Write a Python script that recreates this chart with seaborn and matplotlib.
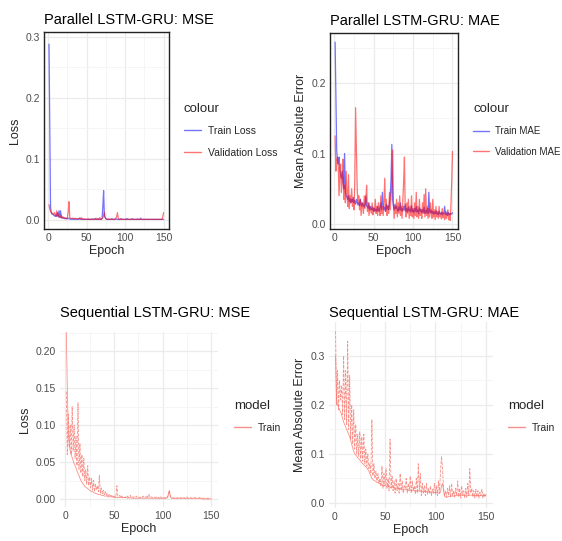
import numpy as np
import pandas as pd
import matplotlib
matplotlib.use("Agg")
import matplotlib.pyplot as plt
from matplotlib.ticker import MultipleLocator
import seaborn as sns

# ---- data ----
epochs = list(range(1, 151))

pmse_train = [
    0.288, 0.155, 0.021, 0.012, 0.010, 0.009, 0.008, 0.007, 0.006, 0.008,
    0.006, 0.012, 0.005, 0.015, 0.004, 0.015, 0.004, 0.003, 0.004, 0.003,
    0.003, 0.002, 0.003, 0.002, 0.002, 0.003, 0.002, 0.002, 0.001, 0.002,
    0.001, 0.002, 0.001, 0.001, 0.002, 0.001, 0.001, 0.001, 0.002, 0.001,
    0.003, 0.001, 0.001, 0.001, 0.001, 0.001, 0.001, 0.001, 0.001, 0.001,
    0.001, 0.001, 0.001, 0.001, 0.001, 0.001, 0.001, 0.001, 0.001, 0.001,
    0.002, 0.001, 0.001, 0.001, 0.002, 0.001, 0.001, 0.001, 0.001, 0.003,
    0.022, 0.048, 0.006, 0.004, 0.002, 0.001, 0.001, 0.001, 0.001, 0.001,
    0.001, 0.001, 0.002, 0.001, 0.001, 0.001, 0.001, 0.002, 0.001, 0.001,
    0.001, 0.001, 0.001, 0.002, 0.001, 0.001, 0.001, 0.001, 0.001, 0.001,
    0.001, 0.002, 0.001, 0.001, 0.001, 0.001, 0.001, 0.001, 0.002, 0.001,
    0.001, 0.001, 0.001, 0.001, 0.001, 0.001, 0.001, 0.001, 0.001, 0.003,
    0.001, 0.001, 0.001, 0.001, 0.001, 0.001, 0.001, 0.001, 0.001, 0.001,
    0.001, 0.001, 0.001, 0.001, 0.001, 0.001, 0.001, 0.001, 0.001, 0.001,
    0.001, 0.001, 0.001, 0.001, 0.001, 0.001, 0.001, 0.001, 0.001, 0.001,
]
pmse_val = [
    0.025, 0.018, 0.014, 0.012, 0.010, 0.011, 0.009, 0.012, 0.008, 0.006,
    0.015, 0.007, 0.010, 0.005, 0.006, 0.004, 0.008, 0.003, 0.005, 0.003,
    0.004, 0.002, 0.003, 0.002, 0.004, 0.015, 0.030, 0.004, 0.003, 0.002,
    0.002, 0.003, 0.002, 0.002, 0.003, 0.002, 0.002, 0.001, 0.002, 0.003,
    0.002, 0.002, 0.004, 0.001, 0.002, 0.001, 0.002, 0.001, 0.001, 0.001,
    0.001, 0.002, 0.001, 0.001, 0.001, 0.002, 0.001, 0.001, 0.002, 0.001,
    0.001, 0.003, 0.001, 0.002, 0.001, 0.001, 0.004, 0.001, 0.001, 0.002,
    0.003, 0.008, 0.013, 0.004, 0.002, 0.001, 0.001, 0.002, 0.001, 0.001,
    0.001, 0.002, 0.001, 0.001, 0.001, 0.001, 0.002, 0.003, 0.006, 0.012,
    0.003, 0.001, 0.001, 0.001, 0.002, 0.001, 0.001, 0.001, 0.001, 0.001,
    0.001, 0.001, 0.002, 0.001, 0.001, 0.001, 0.001, 0.001, 0.001, 0.002,
    0.001, 0.001, 0.001, 0.001, 0.001, 0.002, 0.001, 0.001, 0.001, 0.001,
    0.001, 0.001, 0.001, 0.001, 0.001, 0.001, 0.001, 0.001, 0.001, 0.001,
    0.001, 0.001, 0.001, 0.001, 0.001, 0.001, 0.001, 0.001, 0.001, 0.001,
    0.001, 0.001, 0.001, 0.001, 0.001, 0.001, 0.001, 0.001, 0.006, 0.012,
]

pmae_train = [
    0.258, 0.182, 0.105, 0.090, 0.085, 0.095, 0.075, 0.070, 0.065, 0.075,
    0.060, 0.050, 0.100, 0.045, 0.040, 0.038, 0.035, 0.040, 0.032, 0.036,
    0.030, 0.035, 0.032, 0.038, 0.030, 0.033, 0.028, 0.035, 0.030, 0.027,
    0.030, 0.026, 0.035, 0.028, 0.025, 0.030, 0.027, 0.024, 0.028, 0.040,
    0.026, 0.024, 0.022, 0.030, 0.020, 0.025, 0.022, 0.020, 0.024, 0.018,
    0.022, 0.019, 0.021, 0.018, 0.025, 0.020, 0.018, 0.023, 0.030, 0.020,
    0.045, 0.025, 0.020, 0.024, 0.018, 0.028, 0.021, 0.026, 0.020, 0.030,
    0.040, 0.065, 0.113, 0.035, 0.025, 0.020, 0.028, 0.022, 0.025, 0.020,
    0.018, 0.024, 0.020, 0.030, 0.019, 0.022, 0.018, 0.025, 0.020, 0.028,
    0.018, 0.022, 0.017, 0.024, 0.019, 0.021, 0.017, 0.026, 0.018, 0.020,
    0.016, 0.022, 0.018, 0.025, 0.017, 0.020, 0.015, 0.023, 0.018, 0.021,
    0.016, 0.020, 0.017, 0.024, 0.015, 0.019, 0.016, 0.022, 0.015, 0.045,
    0.018, 0.016, 0.020, 0.015, 0.018, 0.014, 0.017, 0.015, 0.019, 0.014,
    0.016, 0.013, 0.018, 0.015, 0.014, 0.017, 0.013, 0.016, 0.014, 0.025,
    0.015, 0.013, 0.017, 0.012, 0.016, 0.014, 0.013, 0.015, 0.014, 0.016,
]
pmae_val = [
    0.125, 0.075, 0.090, 0.095, 0.080, 0.040, 0.070, 0.085, 0.045, 0.060,
    0.092, 0.035, 0.055, 0.030, 0.075, 0.045, 0.025, 0.070, 0.022, 0.040,
    0.030, 0.050, 0.025, 0.035, 0.020, 0.060, 0.165, 0.110, 0.050, 0.030,
    0.040, 0.020, 0.035, 0.012, 0.030, 0.025, 0.015, 0.040, 0.022, 0.035,
    0.055, 0.018, 0.030, 0.012, 0.025, 0.020, 0.015, 0.030, 0.013, 0.022,
    0.018, 0.035, 0.015, 0.025, 0.012, 0.030, 0.020, 0.012, 0.040, 0.015,
    0.025, 0.012, 0.030, 0.065, 0.018, 0.035, 0.012, 0.025, 0.015, 0.045,
    0.020, 0.040, 0.055, 0.105, 0.030, 0.008, 0.025, 0.015, 0.035, 0.010,
    0.030, 0.015, 0.040, 0.012, 0.025, 0.008, 0.035, 0.060, 0.095, 0.020,
    0.010, 0.030, 0.015, 0.035, 0.008, 0.025, 0.012, 0.040, 0.010, 0.022,
    0.008, 0.030, 0.012, 0.045, 0.010, 0.025, 0.008, 0.035, 0.012, 0.020,
    0.008, 0.030, 0.015, 0.042, 0.010, 0.050, 0.012, 0.025, 0.008, 0.022,
    0.010, 0.030, 0.015, 0.008, 0.035, 0.010, 0.020, 0.006, 0.025, 0.010,
    0.018, 0.008, 0.025, 0.010, 0.015, 0.007, 0.022, 0.009, 0.015, 0.006,
    0.018, 0.008, 0.012, 0.020, 0.006, 0.015, 0.005, 0.025, 0.060, 0.103,
]

smse_train = [
    0.225, 0.150, 0.090, 0.075, 0.065, 0.060, 0.056, 0.052, 0.048, 0.045,
    0.042, 0.038, 0.035, 0.032, 0.028, 0.025, 0.023, 0.021, 0.019, 0.017,
    0.016, 0.015, 0.014, 0.013, 0.012, 0.011, 0.010, 0.010, 0.009, 0.008,
    0.008, 0.007, 0.007, 0.006, 0.006, 0.006, 0.005, 0.005, 0.005, 0.004,
    0.004, 0.004, 0.004, 0.003, 0.003, 0.003, 0.003, 0.003, 0.003, 0.002,
    0.002, 0.002, 0.002, 0.002, 0.002, 0.002, 0.002, 0.002, 0.002, 0.002,
    0.002, 0.002, 0.002, 0.001, 0.002, 0.001, 0.002, 0.001, 0.001, 0.001,
    0.001, 0.001, 0.001, 0.001, 0.001, 0.001, 0.001, 0.001, 0.001, 0.001,
    0.001, 0.001, 0.001, 0.001, 0.001, 0.001, 0.001, 0.001, 0.001, 0.001,
    0.001, 0.001, 0.001, 0.001, 0.001, 0.001, 0.001, 0.001, 0.001, 0.001,
    0.001, 0.001, 0.001, 0.001, 0.002, 0.006, 0.011, 0.003, 0.001, 0.001,
    0.001, 0.001, 0.001, 0.001, 0.001, 0.001, 0.001, 0.001, 0.001, 0.001,
    0.001, 0.001, 0.001, 0.001, 0.001, 0.001, 0.001, 0.001, 0.001, 0.001,
    0.001, 0.001, 0.001, 0.001, 0.001, 0.001, 0.001, 0.001, 0.001, 0.001,
    0.000, 0.000, 0.000, 0.000, 0.000, 0.000, 0.000, 0.000, 0.000, 0.000,
]
smse_val = [
    0.145, 0.060, 0.115, 0.070, 0.100, 0.060, 0.125, 0.065, 0.100, 0.055,
    0.085, 0.045, 0.130, 0.040, 0.075, 0.035, 0.060, 0.030, 0.055, 0.025,
    0.040, 0.020, 0.045, 0.018, 0.030, 0.015, 0.028, 0.012, 0.025, 0.010,
    0.020, 0.012, 0.018, 0.010, 0.032, 0.008, 0.015, 0.007, 0.012, 0.006,
    0.010, 0.005, 0.008, 0.004, 0.007, 0.004, 0.006, 0.003, 0.005, 0.003,
    0.004, 0.003, 0.018, 0.004, 0.003, 0.005, 0.002, 0.004, 0.002, 0.003,
    0.002, 0.003, 0.002, 0.004, 0.002, 0.003, 0.005, 0.002, 0.003, 0.002,
    0.003, 0.002, 0.004, 0.002, 0.003, 0.002, 0.002, 0.003, 0.002, 0.004,
    0.002, 0.003, 0.002, 0.005, 0.002, 0.006, 0.002, 0.003, 0.002, 0.002,
    0.003, 0.002, 0.002, 0.003, 0.001, 0.002, 0.001, 0.003, 0.001, 0.002,
    0.001, 0.002, 0.001, 0.003, 0.002, 0.008, 0.012, 0.004, 0.002, 0.001,
    0.002, 0.001, 0.002, 0.001, 0.001, 0.002, 0.001, 0.001, 0.002, 0.001,
    0.001, 0.002, 0.001, 0.001, 0.003, 0.001, 0.001, 0.001, 0.002, 0.001,
    0.001, 0.001, 0.002, 0.001, 0.001, 0.001, 0.001, 0.002, 0.001, 0.001,
    0.001, 0.001, 0.001, 0.002, 0.001, 0.001, 0.001, 0.001, 0.001, 0.001,
]

smae_train = [
    0.300, 0.210, 0.200, 0.195, 0.190, 0.185, 0.180, 0.172, 0.165, 0.160,
    0.155, 0.150, 0.145, 0.140, 0.135, 0.128, 0.120, 0.112, 0.105, 0.100,
    0.098, 0.095, 0.092, 0.090, 0.088, 0.085, 0.082, 0.080, 0.078, 0.076,
    0.074, 0.072, 0.068, 0.065, 0.060, 0.055, 0.050, 0.048, 0.046, 0.045,
    0.044, 0.042, 0.041, 0.040, 0.039, 0.038, 0.037, 0.036, 0.036, 0.035,
    0.035, 0.034, 0.036, 0.033, 0.033, 0.032, 0.034, 0.031, 0.031, 0.030,
    0.030, 0.031, 0.029, 0.029, 0.030, 0.028, 0.028, 0.029, 0.027, 0.027,
    0.028, 0.027, 0.026, 0.026, 0.027, 0.026, 0.025, 0.025, 0.026, 0.025,
    0.025, 0.024, 0.025, 0.024, 0.024, 0.025, 0.023, 0.023, 0.024, 0.023,
    0.023, 0.023, 0.022, 0.023, 0.022, 0.022, 0.022, 0.023, 0.021, 0.021,
    0.021, 0.021, 0.020, 0.020, 0.022, 0.035, 0.040, 0.025, 0.014, 0.012,
    0.012, 0.012, 0.013, 0.013, 0.013, 0.014, 0.014, 0.014, 0.015, 0.015,
    0.015, 0.015, 0.015, 0.016, 0.016, 0.016, 0.016, 0.016, 0.016, 0.016,
    0.016, 0.016, 0.016, 0.016, 0.016, 0.016, 0.016, 0.015, 0.015, 0.015,
    0.015, 0.015, 0.015, 0.015, 0.015, 0.015, 0.015, 0.015, 0.015, 0.015,
]
smae_val = [
    0.350, 0.200, 0.270, 0.190, 0.250, 0.210, 0.240, 0.180, 0.300, 0.170,
    0.270, 0.160, 0.330, 0.150, 0.260, 0.130, 0.200, 0.120, 0.190, 0.110,
    0.160, 0.100, 0.140, 0.095, 0.145, 0.090, 0.135, 0.085, 0.140, 0.080,
    0.110, 0.075, 0.100, 0.070, 0.080, 0.060, 0.170, 0.055, 0.080, 0.050,
    0.065, 0.045, 0.060, 0.040, 0.050, 0.035, 0.075, 0.030, 0.060, 0.035,
    0.070, 0.030, 0.050, 0.025, 0.130, 0.030, 0.055, 0.025, 0.045, 0.020,
    0.050, 0.025, 0.040, 0.020, 0.060, 0.025, 0.045, 0.020, 0.035, 0.030,
    0.050, 0.020, 0.040, 0.025, 0.055, 0.020, 0.045, 0.025, 0.035, 0.018,
    0.050, 0.020, 0.080, 0.025, 0.060, 0.015, 0.040, 0.020, 0.035, 0.015,
    0.040, 0.018, 0.030, 0.020, 0.035, 0.015, 0.028, 0.020, 0.040, 0.018,
    0.035, 0.015, 0.045, 0.020, 0.065, 0.095, 0.070, 0.030, 0.015, 0.025,
    0.012, 0.030, 0.015, 0.035, 0.012, 0.040, 0.015, 0.025, 0.012, 0.030,
    0.015, 0.045, 0.012, 0.030, 0.010, 0.035, 0.015, 0.025, 0.010, 0.030,
    0.012, 0.040, 0.015, 0.070, 0.020, 0.030, 0.012, 0.025, 0.010, 0.028,
    0.012, 0.025, 0.010, 0.022, 0.015, 0.028, 0.010, 0.020, 0.012, 0.018,
]

seq_colour = "#F8766D"

# ---- styling: mimic ggplot theme_minimal ----
sns.set_theme(style="whitegrid")
plt.rcParams["font.family"] = ["Liberation Sans", "DejaVu Sans"]
plt.rcParams["grid.color"] = "#EBEBEB"
plt.rcParams["grid.linewidth"] = 0.8

W, H = 562, 541
fig = plt.figure(figsize=(W / 100, H / 100), dpi=100)


def px_axes(x0, y0, x1, y1):
    return fig.add_axes([x0 / W, 1 - y1 / H, (x1 - x0) / W, (y1 - y0) / H])


def style_axes(ax, title, ylab, ymajor, ylim, border, title_pad):
    ax.set_xlim(-5.5, 157)
    ax.set_ylim(*ylim)
    ax.xaxis.set_major_locator(MultipleLocator(50))
    ax.xaxis.set_minor_locator(MultipleLocator(25))
    ax.yaxis.set_major_locator(MultipleLocator(ymajor))
    ax.yaxis.set_minor_locator(MultipleLocator(ymajor / 2))
    ax.grid(which="major", color="#EBEBEB", lw=0.9)
    ax.grid(which="minor", color="#F4F4F4", lw=0.6)
    ax.set_facecolor("white")
    ax.tick_params(which="both", length=0, labelsize=7.5, labelcolor="#4D4D4D", pad=3)
    ax.set_title(title, loc="left", fontsize=10.5, pad=title_pad, color="black")
    ax.set_xlabel("Epoch", fontsize=9, labelpad=1)
    ax.set_ylabel(ylab, fontsize=9, labelpad=3)
    for s in ax.spines.values():
        s.set_visible(border)
        s.set_color("#222222")
        s.set_linewidth(1.0)


def place_legend(ax, x, y, title, fs=7.5):
    h, l = ax.get_legend_handles_labels()
    leg = ax.legend(h, l, title=title, loc="upper left",
                    bbox_to_anchor=(x / W, 1 - y / H), bbox_transform=fig.transFigure,
                    frameon=False, fontsize=fs, title_fontsize=9.5,
                    handlelength=1.6, handletextpad=0.7, labelspacing=1.1,
                    borderpad=0, borderaxespad=0)
    leg._legend_box.align = "left"
    leg._legend_box.sep = 8
    for line in leg.get_lines():
        line.set_linewidth(1.0)


# ---- top left: parallel MSE ----
df1 = pd.DataFrame({
    "epoch": epochs * 2,
    "loss": pmse_train + pmse_val,
    "colour": ["Train Loss"] * 150 + ["Validation Loss"] * 150,
})
ax1 = px_axes(44, 32, 169, 229)
sns.lineplot(data=df1, x="epoch", y="loss", hue="colour", estimator=None,
             palette={"Train Loss": "blue", "Validation Loss": "red"},
             alpha=0.55, lw=0.9, ax=ax1)
style_axes(ax1, "Parallel LSTM-GRU: MSE", "Loss", 0.1, (-0.0148, 0.308), True, 6)
place_legend(ax1, 184, 103, "colour")

# ---- top right: parallel MAE ----
df2 = pd.DataFrame({
    "epoch": epochs * 2,
    "mae": pmae_train + pmae_val,
    "colour": ["Train MAE"] * 150 + ["Validation MAE"] * 150,
})
ax2 = px_axes(330, 33, 458, 229)
sns.lineplot(data=df2, x="epoch", y="mae", hue="colour", estimator=None,
             palette={"Train MAE": "blue", "Validation MAE": "red"},
             alpha=0.55, lw=0.9, ax=ax2)
style_axes(ax2, "Parallel LSTM-GRU: MAE", "Mean Absolute Error", 0.1, (-0.0071, 0.271), True, 6)
place_legend(ax2, 473, 103, "colour", fs=7.0)

# ---- bottom left: sequential MSE ----
df3 = pd.DataFrame({"epoch": epochs, "loss": smse_train, "model": ["Train"] * 150})
ax3 = px_axes(60, 332, 218, 507)
sns.lineplot(data=df3, x="epoch", y="loss", hue="model", estimator=None,
             palette={"Train": seq_colour}, alpha=0.8, lw=0.6, ax=ax3)
sns.lineplot(x=epochs, y=smse_val, color=seq_colour, alpha=0.8, lw=0.6,
             linestyle="--", legend=False, ax=ax3)
style_axes(ax3, "Sequential LSTM-GRU: MSE", "Loss", 0.05, (-0.0108, 0.2257), False, 11)
place_legend(ax3, 234, 400, "model")

# ---- bottom right: sequential MAE ----
df4 = pd.DataFrame({"epoch": epochs, "mae": smae_train, "model": ["Train"] * 150})
ax4 = px_axes(329, 322, 493, 508)
sns.lineplot(data=df4, x="epoch", y="mae", hue="model", estimator=None,
             palette={"Train": seq_colour}, alpha=0.8, lw=0.6, ax=ax4)
sns.lineplot(x=epochs, y=smae_val, color=seq_colour, alpha=0.8, lw=0.6,
             linestyle="--", legend=False, ax=ax4)
style_axes(ax4, "Sequential LSTM-GRU: MAE", "Mean Absolute Error", 0.1, (-0.0102, 0.369), False, 3.5)
place_legend(ax4, 508, 400, "model")

fig.savefig("out.png", dpi=100)
plt.close(fig)
